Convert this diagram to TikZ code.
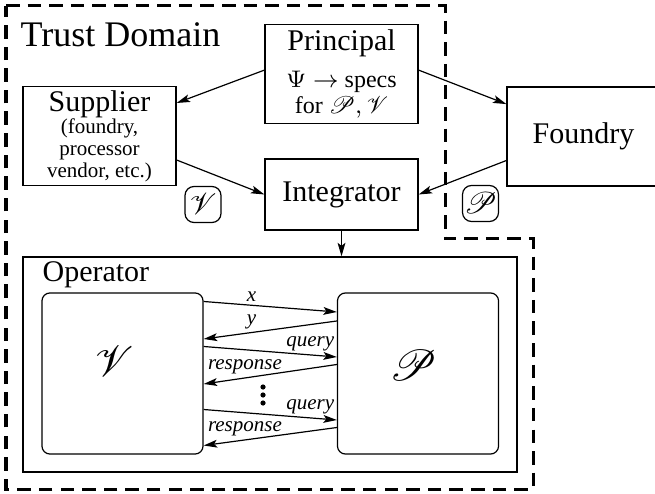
\documentclass[tikz,border=0pt]{standalone}
\usepackage{fontspec}
\setmainfont{Liberation Serif}
\usepackage{mathrsfs}
\usetikzlibrary{arrows.meta}

\begin{document}
\begin{tikzpicture}[
    x=0.3333pt,y=-0.3333pt,
    box/.style={draw,text width=49pt,minimum width=51pt,minimum height=33pt,align=flush center,inner sep=1pt},
    badge/.style={draw,rounded corners=3pt,minimum size=12pt,inner sep=0pt},
    party/.style={draw,rounded corners=2.7pt,minimum size=53.7pt,inner sep=0pt},
    arr/.style={-{Stealth[length=4.5pt,width=2.6pt,inset=1pt]}},
    msg/.style={font=\fontsize{7pt}{8pt}\selectfont\itshape,inner sep=1pt,above}
  ]
  \useasboundingbox (0,0) rectangle (655,494);

  % trust domain boundary
  \draw[line width=1pt,dash pattern=on 4.5pt off 2.7pt]
    (6,6) -- (445,6) -- (445,239) -- (533,239) -- (533,489) -- (6,489) -- cycle;
  \node[anchor=base west,font=\large,inner sep=0pt] (domain) at (20,47) {Trust Domain};

  % parties
  \node[box] (principal) at (341.5,74) {Principal\par\vspace{3.6pt}\fontsize{8pt}{8.7pt}\selectfont
    $\Psi\rightarrow$ specs\par for $\mathscr{P},\mathscr{V}$\par};
  \node[box] (supplier) at (99.5,136) {Supplier\par\fontsize{7pt}{7.3pt}\selectfont
    (foundry,\par processor\par vendor, etc.)\par};
  \node[box] (foundry) at (583.5,136.5) {Foundry};
  \node[box,minimum height=23.7pt] (integrator) at (341.5,194.5) {Integrator};
  \node[badge] (vbadge) at (203,204.5) {$\mathscr{V}$};
  \node[badge] (pbadge) at (480.5,203.5) {$\mathscr{P}$};

  \draw[arr] ([yshift=1.3pt]principal.west) -- ([yshift=11pt]supplier.east);
  \draw[arr] ([yshift=1.3pt]principal.east) -- ([yshift=10.8pt]foundry.west);
  \draw[arr] ([yshift=-8pt]supplier.east) -- (integrator.west);
  \draw[arr] ([yshift=-8pt]foundry.west) -- (integrator.east);

  % operator
  \node[draw,minimum width=164.7pt,minimum height=71.7pt,inner sep=0pt] (operator) at (270,364.5) {};
  \node[anchor=base west,inner sep=0pt] (opname) at (42,282) {Operator};
  \draw[arr] (integrator.south) -- (integrator.south |- operator.north);

  \node[party] (verifier) at (122.5,373.5) {};
  \node[party] (prover) at (418,373.5) {};
  \node[font=\Large] (vname) at (114,361) {$\mathscr{V}$};
  \node[font=\Large] (pname) at (413,365) {$\mathscr{P}$};

  \draw[arr] ([yshift=24pt]verifier.east) -- node[msg,pos=0.36]{x} ([yshift=20.5pt]prover.west);
  \draw[arr] ([yshift=17.5pt]prover.west) -- node[msg,pos=0.64]{y} ([yshift=11.5pt]verifier.east);
  \draw[arr] ([yshift=9pt]verifier.east) -- node[msg,pos=0.8]{query} ([yshift=5.5pt]prover.west);
  \draw[arr] ([yshift=3pt]prover.west) -- node[msg,pos=0.69]{response} ([yshift=-3.5pt]verifier.east);
  \foreach \dy in {-8,0,8}
    \fill (263,395+\dy) circle (2.6);
  \draw[arr] ([yshift=-12pt]verifier.east) -- node[msg,pos=0.8]{query} ([yshift=-15.5pt]prover.west);
  \draw[arr] ([yshift=-18pt]prover.west) -- node[msg,pos=0.69]{response} ([yshift=-24pt]verifier.east);
\end{tikzpicture}
\end{document}
